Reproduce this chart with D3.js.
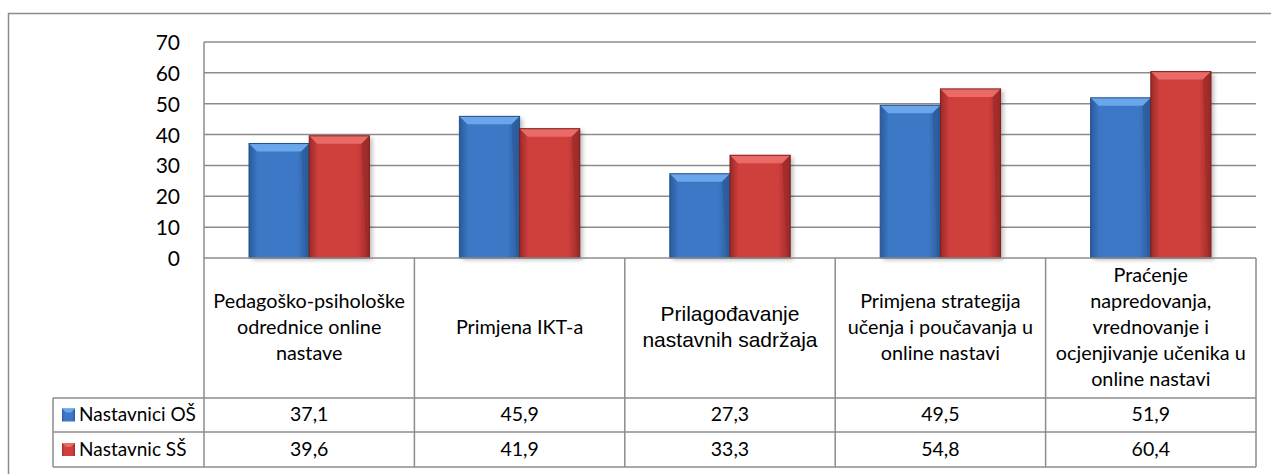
<!DOCTYPE html>
<html>
<head>
<meta charset="utf-8">
<script src="https://cdn.jsdelivr.net/npm/d3@7"></script>
<style>
body { margin: 0; background: #fff; }
svg text { font-family: Lato, "Open Sans", sans-serif; fill: #000; }
svg text.arial { font-family: "Liberation Sans", Arial, sans-serif; }
</style>
</head>
<body>
<svg id="chart" width="1271" height="474"></svg>
<script>
var categories = ["Pedagoško-psihološke odrednice online nastave", "Primjena IKT-a", "Prilagođavanje nastavnih sadržaja", "Primjena strategija učenja i poučavanja u online nastavi", "Praćenje napredovanja, vrednovanje i ocjenjivanje učenika u online nastavi"];
var categoryLines = [
	["Pedagoško-psihološke", "odrednice online", "nastave"],
	["Primjena IKT-a"],
	["Prilagođavanje", "nastavnih sadržaja"],
	["Primjena strategija", "učenja i poučavanja u", "online nastavi"],
	["Praćenje", "napredovanja,", "vrednovanje i", "ocjenjivanje učenika u", "online nastavi"]
];
var seriesNames = ["Nastavnici OŠ", "Nastavnic SŠ"];
var osValues = [37.1, 45.9, 27.3, 49.5, 51.9];
var ssValues = [39.6, 41.9, 33.3, 54.8, 60.4];
var yTicks = [0, 10, 20, 30, 40, 50, 60, 70];

var svg = d3.select("#chart");
var colors = {
	"Nastavnici OŠ": { main: "#3d78c6", light: "#6aa6ea", dark: "#2a5a9a", edge: "#24508a" },
	"Nastavnic SŠ": { main: "#cf3f3d", light: "#ea6a68", dark: "#9a2a28", edge: "#7e1e1c" }
};

var defs = svg.append("defs");
seriesNames.forEach(function (s, i) {
	var g = defs.append("linearGradient").attr("id", "grad" + i).attr("x1", "0").attr("x2", "1").attr("y1", "0").attr("y2", "0");
	g.append("stop").attr("offset", "0").attr("stop-color", colors[s].dark);
	g.append("stop").attr("offset", "0.15").attr("stop-color", colors[s].main);
	g.append("stop").attr("offset", "0.8").attr("stop-color", colors[s].main);
	g.append("stop").attr("offset", "1").attr("stop-color", colors[s].dark);
});
var shadow = defs.append("filter").attr("id", "shadow").attr("x", "-20%").attr("y", "-10%").attr("width", "150%").attr("height", "130%");
shadow.append("feDropShadow").attr("dx", "3").attr("dy", "2").attr("stdDeviation", "2").attr("flood-color", "#000").attr("flood-opacity", "0.25");

var plotLeft = 204, plotRight = 1256, plotTop = 42, zeroY = 258;
var labelBottom = 398, row1Bottom = 432, row2Bottom = 467, legendLeft = 53;

var x = d3.scaleBand().domain(categories).range([plotLeft, plotRight]).padding(0);
var xs = d3.scaleBand().domain(seriesNames).range([45, x.bandwidth() - 45]).padding(0);
var y = d3.scaleLinear().domain([0, 70]).range([zeroY, plotTop]);

// outer frame
svg.append("rect").attr("x", 8.5).attr("y", 13.5).attr("width", 1300).attr("height", 500).attr("fill", "none").attr("stroke", "#8c8c8c").attr("stroke-width", 1.5);

// grid
svg.append("g").selectAll("line").data(yTicks.slice(1)).join("line")
	.attr("x1", plotLeft).attr("x2", plotRight).attr("y1", function (d) { return y(d); }).attr("y2", function (d) { return y(d); })
	.attr("stroke", "#8c8c8c").attr("stroke-width", 1.5);

// y axis
var yAxis = svg.append("g").attr("transform", "translate(180,0)")
	.call(d3.axisLeft(y).tickValues(yTicks).tickSize(0).tickPadding(0).tickFormat(d3.format("d")));
yAxis.select(".domain").remove();
yAxis.selectAll("text").attr("font-size", "21px").attr("font-family", "Lato").attr("fill", "#000").attr("dy", "0.36em");

// bars
var data = [];
categories.forEach(function (c, i) {
	data.push({ cat: c, s: seriesNames[0], v: osValues[i], k: 0 });
	data.push({ cat: c, s: seriesNames[1], v: ssValues[i], k: 1 });
});
var bars = svg.append("g").selectAll("g").data(data).join("g")
	.attr("transform", function (d) { return "translate(" + (x(d.cat) + xs(d.s)) + "," + y(d.v) + ")"; });
var bw = xs.bandwidth(), bv = 8;
bars.append("rect").attr("width", bw).attr("height", function (d) { return zeroY - y(d.v); })
	.attr("fill", function (d) { return "url(#grad" + d.k + ")"; }).attr("filter", "url(#shadow)");
bars.append("polygon").attr("points", "0,0 " + bw + ",0 " + (bw - bv) + "," + bv + " " + bv + "," + bv)
	.attr("fill", function (d) { return colors[d.s].light; });
bars.append("polygon").attr("points", function (d) { var h = zeroY - y(d.v); return bw + ",0 " + bw + "," + h + " " + (bw - 3) + "," + (h - 3) + " " + (bw - bv) + "," + bv; })
	.attr("fill", function (d) { return colors[d.s].dark; }).attr("opacity", 0.6);
bars.append("rect").attr("width", bw).attr("height", function (d) { return zeroY - y(d.v); })
	.attr("fill", "none").attr("stroke", function (d) { return colors[d.s].edge; }).attr("stroke-width", 1);

// table lines
var tbl = svg.append("g").attr("stroke", "#8c8c8c").attr("stroke-width", 1.5);
tbl.append("line").attr("x1", plotLeft).attr("x2", plotLeft).attr("y1", plotTop).attr("y2", row2Bottom);
tbl.append("line").attr("x1", plotLeft).attr("x2", plotRight).attr("y1", zeroY).attr("y2", zeroY);
[labelBottom, row1Bottom, row2Bottom].forEach(function (yy) {
	tbl.append("line").attr("x1", legendLeft).attr("x2", plotRight).attr("y1", yy).attr("y2", yy);
});
tbl.append("line").attr("x1", legendLeft).attr("x2", legendLeft).attr("y1", labelBottom).attr("y2", row2Bottom);
tbl.selectAll("line.sep").data(categories).join("line").attr("class", "sep")
	.attr("x1", function (d) { return x(d) + x.bandwidth(); }).attr("x2", function (d) { return x(d) + x.bandwidth(); })
	.attr("y1", zeroY).attr("y2", row2Bottom);

// category labels
var lineH = 26;
svg.append("g").selectAll("text").data(categories).join("text")
	.attr("text-anchor", "middle")
	.classed("arial", function (d, i) { return i == 2; })
	.attr("font-size", function (d, i) { return i == 2 ? "21px" : "19.8px"; })
	.each(function (d, i) {
		var lines = categoryLines[i];
		var t = d3.select(this);
		var cy = (zeroY + labelBottom) / 2 + 6 - (lines.length - 1) * lineH / 2;
		lines.forEach(function (l, j) {
			t.append("tspan").attr("x", x(d) + x.bandwidth() / 2).attr("y", cy + j * lineH).text(l);
		});
	});

// values rows
var rows = [{ s: seriesNames[0], vals: osValues, top: labelBottom, bottom: row1Bottom }, { s: seriesNames[1], vals: ssValues, top: row1Bottom, bottom: row2Bottom }];
var fmt = function (v) { return d3.format(".1f")(v).replace(".", ","); };
rows.forEach(function (r, k) {
	var mid = (r.top + r.bottom) / 2;
	svg.append("g").selectAll("text").data(categories).join("text")
		.attr("x", function (d) { return x(d) + x.bandwidth() / 2; }).attr("y", mid + 6)
		.attr("text-anchor", "middle").attr("font-size", "19.5px")
		.text(function (d, i) { return fmt(r.vals[i]); });
	var key = svg.append("g").attr("transform", "translate(62," + (mid - 6.5) + ")");
	key.append("rect").attr("width", 13).attr("height", 13).attr("fill", "url(#grad" + k + ")");
	key.append("polygon").attr("points", "0,0 13,0 9,4 4,4").attr("fill", colors[r.s].light);
	svg.append("text").attr("x", 79).attr("y", mid + 6).attr("font-size", "19px").text(r.s);
});
</script>
</body>
</html>
